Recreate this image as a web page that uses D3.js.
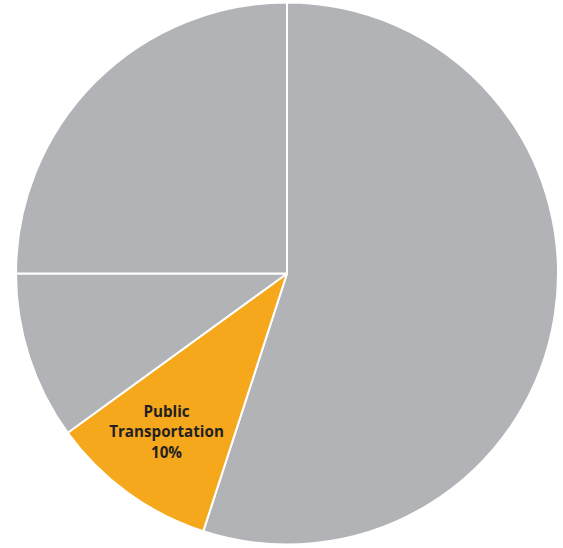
<!DOCTYPE html>
<html><head><meta charset="utf-8">
<script src="https://cdn.jsdelivr.net/npm/d3@7"></script>
<style>html,body{margin:0;padding:0;background:#fff;}</style>
</head><body>
<svg id="chart" width="563" height="548"></svg>
<script>
const categories = ["Other A", "Public Transportation", "Other B", "Other C"];
const values = [55, 10, 10, 25];
const labels = ["", "Public\nTransportation\n10%", "", ""];
const colors = ["#b1b3b6", "#f6a81d", "#b1b3b6", "#b1b3b6"];

const svg = d3.select("#chart");
const cx = 287, cy = 273.5, R = 271;
const g = svg.append("g").attr("transform", `translate(${cx},${cy})`);
const pie = d3.pie().sort(null).value(d => d.v);
const data = categories.map((c, i) => ({c, v: values[i], color: colors[i], label: labels[i]}));
const arcs = pie(data);
const arc = d3.arc().innerRadius(0).outerRadius(R);
g.selectAll("path").data(arcs).join("path")
  .attr("d", arc).attr("fill", d => d.data.color)
  .attr("stroke", "#fff").attr("stroke-width", 2).attr("stroke-linejoin", "round");

const labelArc = d3.arc().innerRadius(205).outerRadius(205);
arcs.filter(d => d.data.label).forEach(d => {
  const [x, y] = labelArc.centroid(d);
  const lines = d.data.label.split("\n");
  lines.forEach((l, i) => {
    g.append("text").attr("text-anchor", "middle")
      .attr("font-family", "'Open Sans', sans-serif").attr("font-weight", 700)
      .attr("font-size", 15.2).attr("fill", "#231f20")
      .attr("x", x).attr("y", y + (i - 1) * 20.8 - 2).text(l);
  });
});
</script>
</body></html>
